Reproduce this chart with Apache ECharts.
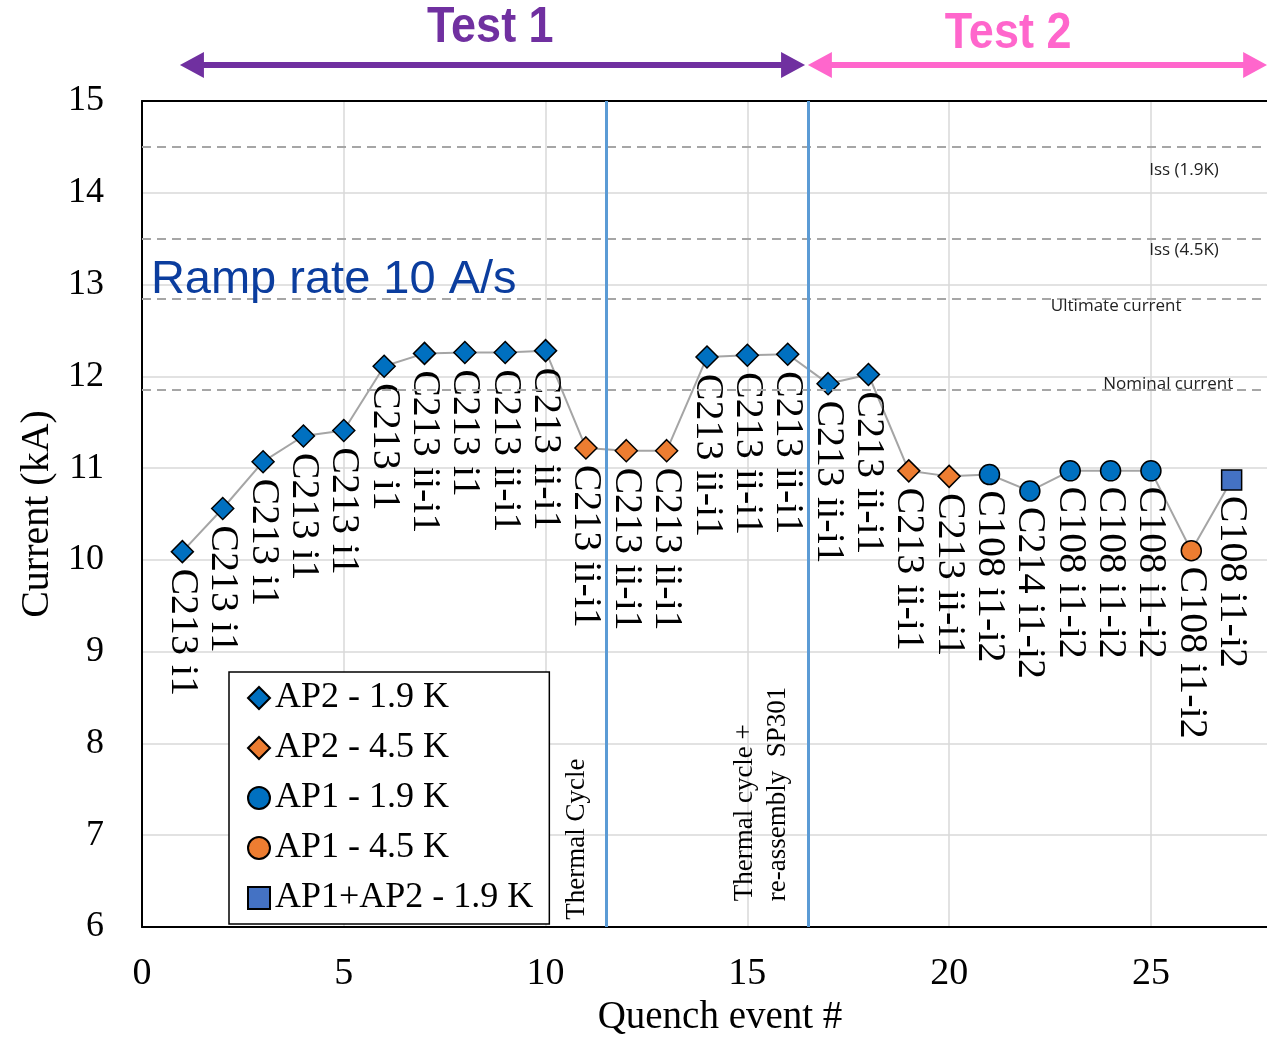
<!DOCTYPE html>
<html><head><meta charset="utf-8">
<script src="https://cdn.jsdelivr.net/npm/echarts@6/dist/echarts.min.js"></script>
<style>html,body{margin:0;padding:0;background:#fff}#c{width:1267px;height:1038px}</style>
</head><body><div id="c"></div>
<script>
// ---- data ----
const events = [1,2,3,4,5,6,7,8,9,10,11,12,13,14,15,16,17,18,19,20,21,22,23,24,25,26,27];
const currents = [10.09,10.56,11.07,11.35,11.41,12.11,12.25,12.26,12.26,12.28,11.22,11.19,11.19,12.21,12.23,12.24,11.92,12.02,10.97,10.91,10.93,10.75,10.97,10.97,10.97,10.10,10.87];
const pointLabels = ['C213 i1','C213 i1','C213 i1','C213 i1','C213 i1','C213 i1','C213 ii-i1','C213 i1','C213 ii-i1','C213 ii-i1',
  'C213 ii-i1','C213 ii-i1','C213 ii-i1','C213 ii-i1','C213 ii-i1','C213 ii-i1','C213 ii-i1','C213 ii-i1','C213 ii-i1','C213 ii-i1',
  'C108 i1-i2','C214 i1-i2','C108 i1-i2','C108 i1-i2','C108 i1-i2','C108 i1-i2','C108 i1-i2'];
const seriesNames = ['AP2 - 1.9 K','AP2 - 4.5 K','AP1 - 1.9 K','AP1 - 4.5 K','AP1+AP2 - 1.9 K'];
const pointGroup = [0,0,0,0,0,0,0,0,0,0,1,1,1,0,0,0,0,0,1,1,2,2,2,2,2,3,4];
const refLineValues = [14.5, 13.5, 12.85, 11.85];
const refLineNames = ['Iss (1.9K)','Iss (4.5K)','Ultimate current','Nominal current'];
const eventMarkers = [11.5, 16.5];
const xTicks = [0,5,10,15,20,25];

// ---- styles ----
const SERIF = '"Liberation Serif","Times New Roman",serif';
const symbols = ['diamond','diamond','circle','circle','rect'];
const colors = ['#0070c0','#ed7d31','#0070c0','#ed7d31','#4472c4'];
const sizes = [22,22,20,20,20];

const chart = echarts.init(document.getElementById('c'), null, {renderer:'canvas'});

const scatterSeries = seriesNames.map((name, g) => ({
  name, type:'scatter', symbol:symbols[g], symbolSize:sizes[g], z:4,
  itemStyle:{color:colors[g], borderColor:'#000', borderWidth:1.5, opacity:1},
  label:{show:true, formatter:'{b}', position:'bottom', distance:5, rotate:-90, align:'left', verticalAlign:'middle',
    fontFamily:SERIF, fontSize:40, color:'#000'},
  data: events.map((e,i)=>({name:pointLabels[i], value:[e, currents[i]], g:pointGroup[i]})).filter(d=>d.g===g).map(d=>({name:d.name, value:d.value}))
}));
scatterSeries[0].markLine = {silent:true, symbol:'none', animation:false, label:{show:false},
  lineStyle:{type:'solid', color:'#5b9bd5', width:3, opacity:1},
  emphasis:{disabled:true},
  data: eventMarkers.map(v=>({xAxis:v}))};

const option = {
  animation:false,
  backgroundColor:'#fff',
  grid:{left:142, top:101, width:1130, height:826, show:false, outerBoundsMode:'none', containLabel:false},
  xAxis:[{type:'value', min:0, max:28, interval:5, position:'bottom',
    axisLine:{show:true, onZero:false, lineStyle:{color:'#000', width:2}}, axisTick:{show:false},
    axisLabel:{formatter:v=> xTicks.includes(v) ? String(v) : '', fontFamily:SERIF, fontSize:38, color:'#000', margin:28},
    splitLine:{show:true, lineStyle:{color:'#d9d9d9', width:1.5}},
    name:'Quench event #', nameLocation:'middle', nameGap:66,
    nameTextStyle:{fontFamily:SERIF, fontSize:39, color:'#000', padding:[0,0,0,26]}},
   {type:'value', min:0, max:28, position:'top',
    axisLine:{show:true, onZero:false, lineStyle:{color:'#000', width:2}}, axisTick:{show:false},
    axisLabel:{show:false}, splitLine:{show:false}}],
  yAxis:{type:'value', min:6, max:15, interval:1,
    axisLine:{show:true, onZero:false, lineStyle:{color:'#000', width:2}}, axisTick:{show:false},
    axisLabel:{fontFamily:SERIF, fontSize:36, color:'#000', margin:38},
    splitLine:{show:true, lineStyle:{color:'#d9d9d9', width:1.5}},
    name:'Current (kA)', nameLocation:'middle', nameGap:82, nameRotate:90,
    nameTextStyle:{fontFamily:SERIF, fontSize:40, color:'#000'}},
  legend:{data:seriesNames, orient:'vertical', left:229, top:672, itemGap:14, itemWidth:22, itemHeight:22,
    padding:[8,16,8,18], borderColor:'#000', borderWidth:1.5, backgroundColor:'#fff', borderRadius:0,
    textStyle:{fontFamily:SERIF, fontSize:36, color:'#000'}, z:10},
  series:[
    {type:'line', name:'_path', data:events.map((e,i)=>[e,currents[i]]), showSymbol:false, silent:true, z:2,
     lineStyle:{color:'#a5a5a5', width:2},
     markLine:{silent:true, symbol:'none', animation:false, label:{show:false},
       lineStyle:{type:[9,6], color:'#a6a6a6', width:2, opacity:1},
       data: refLineValues.map(v=>({yAxis:v}))}},
    ...scatterSeries
  ]
};
chart.setOption(option);

// ---- annotations positioned in data units ----
const px = (x,y) => chart.convertToPixel({gridIndex:0}, [x,y]);
function arrow(x0, x1, yPix, color){
  const a = px(x0, 15)[0], b = px(x1, 15)[0];
  const h = 24, w = 13, t = 3;
  return {type:'polygon', z:20, silent:true,
    shape:{points:[[a,yPix],[a+h,yPix-w],[a+h,yPix-t],[b-h,yPix-t],[b-h,yPix-w],[b,yPix],[b-h,yPix+w],[b-h,yPix+t],[a+h,yPix+t],[a+h,yPix+w]]},
    style:{fill:color}};
}
const refLabelPos = [[25.82,14.25],[25.82,13.37],[24.14,12.76],[25.43,11.91]];
const g = [];
refLineNames.forEach((t,i)=>{
  const p = px(refLabelPos[i][0], refLabelPos[i][1]);
  g.push({type:'text', x:p[0], y:p[1], z:20, silent:true,
    style:{text:t, align:'center', verticalAlign:'middle', font:'17px "Open Sans", sans-serif', fill:'#222'}});
});
const rr = px(0.22, 13.05);
g.push({type:'text', x:rr[0], y:rr[1], z:20, silent:true,
  style:{text:'Ramp rate 10 A/s', align:'left', verticalAlign:'middle', font:'47px "Liberation Sans", Arial, sans-serif', fill:'#0b3d9e'}});
const tc1 = px(10.78, 6.08);
g.push({type:'text', x:tc1[0], y:tc1[1], rotation:Math.PI/2, z:20, silent:true,
  style:{text:'Thermal Cycle', align:'left', verticalAlign:'middle', font:'27px '+SERIF, fill:'#000'}});
const tc2 = px(15.35, 6.28);
g.push({type:'text', x:tc2[0], y:tc2[1], rotation:Math.PI/2, z:20, silent:true,
  style:{text:'Thermal cycle +\nre-assembly  SP301', align:'left', verticalAlign:'middle', lineHeight:33, font:'27px '+SERIF, fill:'#000'}});
g.push(arrow(0.94, 16.43, 65, '#7030a0'));
g.push(arrow(16.5, 27.88, 65, '#ff66cc'));
const t1 = px(8.63, 15)[0], t2 = px(21.46, 15)[0];
g.push({type:'text', x:t1, y:28, scaleY:1.12, z:20, silent:true,
  style:{text:'Test 1', align:'center', verticalAlign:'middle', font:'bold 45px "Liberation Sans", Arial, sans-serif', fill:'#7030a0'}});
g.push({type:'text', x:t2, y:34, scaleY:1.12, z:20, silent:true,
  style:{text:'Test 2', align:'center', verticalAlign:'middle', font:'bold 45px "Liberation Sans", Arial, sans-serif', fill:'#ff66cc'}});
chart.setOption({graphic:g});
</script></body></html>
